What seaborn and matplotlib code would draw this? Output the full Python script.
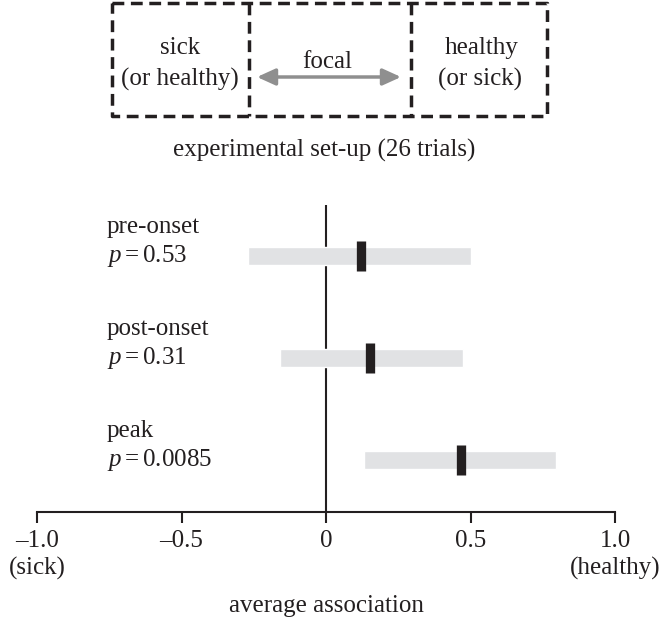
import matplotlib
matplotlib.use('Agg')
import matplotlib.pyplot as plt
import seaborn as sns
import numpy as np
import pandas as pd

# values
periods = ['pre-onset', 'post-onset', 'peak']
p_values = ['0.53', '0.31', '0.0085']
means = [0.12, 0.153, 0.467]
ci_low = [-0.269, -0.159, 0.133]
ci_high = [0.501, 0.474, 0.795]

tick_values = [-1.0, -0.5, 0.0, 0.5, 1.0]
tick_labels = ['\u20131.0\n(sick)', '\u20130.5\n ', '0\n ', '0.5\n ', '1.0\n(healthy)']

sns.set_style('white')
plt.rcParams['font.family'] = ['Liberation Serif', 'DejaVu Serif']
plt.rcParams['mathtext.fontset'] = 'custom'
plt.rcParams['mathtext.rm'] = 'Liberation Serif'
plt.rcParams['mathtext.it'] = 'Liberation Serif:italic'

ink = '#231f20'
band = '#e1e2e4'
fs = 18

df = pd.DataFrame({'period': periods, 'mean': means, 'low': ci_low,
                   'high': ci_high, 'p': p_values})
df['y'] = np.arange(len(df))

fig = plt.figure(figsize=(6.6, 6.27), dpi=100)

# main forest-style axes
ax = fig.add_axes([37 / 660, 115 / 627, 578 / 660, 307 / 627])
ax.axvline(0, color=ink, lw=1.5, zorder=1)
ax.barh(df['y'], df['high'] - df['low'], left=df['low'], height=0.176,
        color=band, zorder=2)
sns.scatterplot(data=df, x='mean', y='y', marker='|', s=470, linewidth=6.7,
                color=ink, ax=ax, zorder=3, legend=False)

for _, row in df.iterrows():
    ax.text(-0.758, row['y'] - 0.284, row['period'], fontsize=fs, color=ink,
            va='center', ha='left')
    ax.text(-0.758, row['y'], '$p=' + row['p'] + '$', fontsize=fs, color=ink,
            va='center', ha='left')

ax.set_xlim(-1, 1)
ax.set_ylim(2.51, -0.5)
ax.set_yticks([])
ax.set_xticks(tick_values)
ax.set_xticklabels(tick_labels, fontsize=fs, color=ink, linespacing=1.25)
ax.tick_params(axis='x', bottom=True, direction='out', length=8, width=1.5,
               color=ink, pad=5)
ax.set_xlabel('average association', fontsize=fs, color=ink, labelpad=11)
ax.set_ylabel('')
for side in ['left', 'right', 'top']:
    ax.spines[side].set_visible(False)
ax.spines['bottom'].set_linewidth(1.5)
ax.spines['bottom'].set_color(ink)
ax.set_facecolor('none')

# experimental set-up diagram, drawn in pixel coordinates
top = fig.add_axes([0, 0, 1, 1])
top.set_xlim(0, 660)
top.set_ylim(627, 0)
top.axis('off')
top.patch.set_alpha(0)

dash = dict(color=ink, lw=2.5, linestyle=(0, (3.4, 1.9)), solid_capstyle='butt')
top.plot([112, 547, 547, 112, 112], [3, 3, 116, 116, 3], **dash)
top.plot([249, 249], [3, 116], **dash)
top.plot([411, 411], [3, 116], **dash)

top.annotate('', xy=(401, 77), xytext=(257, 77),
             arrowprops=dict(arrowstyle='<|-|>,head_length=0.55,head_width=0.25',
                             color='#8f8f8f', lw=2.5, mutation_scale=20,
                             shrinkA=0, shrinkB=0))

top.text(180, 48, 'sick', fontsize=fs, color=ink, ha='center', va='center')
top.text(180, 79, '(or healthy)', fontsize=fs, color=ink, ha='center', va='center')
top.text(327, 62, 'focal', fontsize=fs, color=ink, ha='center', va='center')
top.text(482, 48, 'healthy', fontsize=fs, color=ink, ha='center', va='center')
top.text(480, 79, '(or sick)', fontsize=fs, color=ink, ha='center', va='center')
top.text(324, 150, 'experimental set-up (26 trials)', fontsize=fs, color=ink,
         ha='center', va='center')

fig.savefig('out.png', dpi=100)
